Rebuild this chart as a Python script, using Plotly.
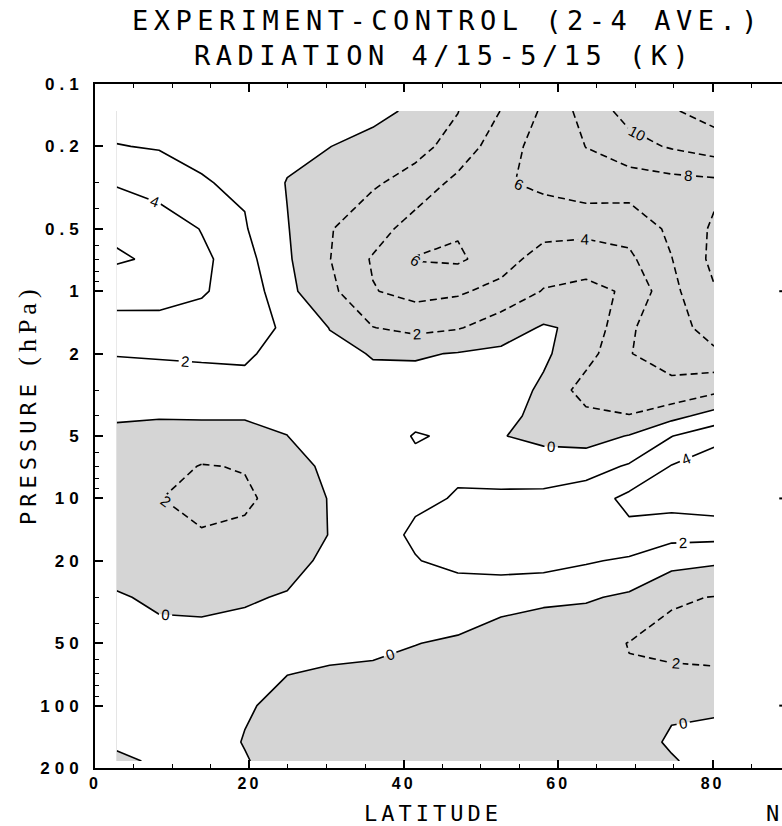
import numpy as np
import plotly.graph_objects as go

# ---------------- data ----------------
latitudes = [2.8, 8.3, 13.8, 19.4, 24.9, 30.4, 36.0, 41.5, 47.0, 52.6, 58.1, 63.6, 69.2, 74.7, 80.2]
pressures = [0.135, 0.2, 0.3, 0.5, 0.7, 1, 1.5, 2, 3, 4, 5, 7, 10, 15, 20, 30, 50, 70, 100, 150, 185]

# temperature difference (K), one list per latitude, top (0.135 hPa) to bottom (185 hPa)
dT_lat03 = [1.4, 2.05, 3.85, 5.5, 6.3, 4.45, 3.6, 2.1, 0.87, 0.2, -0.4, -1.0, -1.4, -1.3, -0.9, 0.2, 0.8, 1.0, 0.9, 0.3, -0.35]
dT_lat08 = [1.5, 1.9, 2.83, 5.5, 5.6, 4.6, 3.46, 2.2, 0.97, 0.1, -0.5, -1.2, -1.95, -1.7, -1.1, -0.35, 0.6, 1.0, 1.1, 0.9, 0.25]
dT_lat14 = [1.6, 1.7, 2.1, 3.9, 4.5, 4.15, 3.38, 2.3, 1.07, 0.15, -0.6, -2.1, -2.6, -1.85, -1.4, -0.3, 0.4, 0.9, 1.1, 1.0, 0.8]
dT_lat19 = [1.5, 1.6, 1.75, 2.15, 2.7, 3.3, 2.8, 2.3, 1.37, 0.1, -0.4, -1.9, -2.3, -1.65, -1.2, -0.2, 0.7, 0.6, 0.2, -0.1, 0.15]
dT_lat25 = [1.2, 0.6, -0.1, 0.1, 0.25, 0.5, 1.7, 1.25, 1.0, 0.4, -0.02, -0.8, -1.3, -1.2, -0.7, 0.15, 0.5, 0.03, -0.5, -0.9, -1.0]
dT_lat30 = [0.9, 0.03, -0.9, -1.9, -1.95, -1.5, -0.05, 0.5, 0.9, 1.2, 1.3, 0.43, 0.1, 0.06, 0.46, 1.0, 0.4, -0.15, -0.8, -1.2, -1.3]
dT_lat36 = [0.6, -0.7, -1.8, -3.0, -4.2, -3.9, -1.95, -0.1, 0.5, 0.9, 1.2, 1.4, 1.5, 1.6, 1.3, 0.9, 0.4, -0.3, -1.0, -1.4, -1.5]
dT_lat42 = [-0.4, -1.5, -2.6, -5.0, -6.1, -4.6, -2.6, -0.2, 0.8, 1.6, 2.1, 1.7, 1.85, 2.15, 1.95, 1.2, 0.05, -0.6, -1.3, -1.7, -1.8]
dT_lat47 = [-1.95, -2.6, -4.6, -5.8, -6.3, -4.3, -2.15, 0.1, 1.0, 1.5, 1.8, 1.9, 2.05, 2.6, 2.3, 1.4, -0.3, -1.0, -1.5, -1.8, -1.9]
dT_lat53 = [-4.05, -5.3, -5.8, -5.4, -5.0, -3.3, -1.0, 0.4, 0.9, 0.5, 0.05, 1.5, 2.2, 2.9, 2.7, 0.9, -1.2, -1.6, -1.7, -1.8, -1.8]
dT_lat58 = [-6.3, -6.63, -6.4, -4.8, -3.0, -1.9, 0.2, 0.3, -0.3, -0.5, -0.3, 0.6, 2.6, 3.3, 2.8, 0.35, -1.2, -1.7, -1.8, -1.85, -1.85]
dT_lat64 = [-8.76, -8.03, -7.2, -4.5, -3.0, -1.4, -0.4, -1.2, -2.9, -1.5, -0.8, 1.2, 3.0, 3.5, 2.2, 0.2, -1.33, -1.8, -1.6, -1.5, -1.5]
dT_lat69 = [-10.73, -9.3, -7.0, -4.7, -3.6, -2.3, -3.8, -3.95, -3.7, -1.9, 0.1, 2.2, 4.5, 3.5, 1.7, -0.3, -2.05, -1.9, -1.3, -1.0, -0.9]
dT_lat75 = [-11.8, -10.2, -7.3, -6.4, -5.95, -5.5, -5.0, -4.6, -3.6, -0.63, 1.95, 4.1, 4.9, 2.6, 0.7, -1.82, -2.46, -1.75, -0.35, 0.3, -0.2]
dT_lat80 = [-12.85, -11.0, -7.5, -8.3, -8.5, -7.85, -7.0, -5.6, -2.5, 0.8, 3.3, 5.2, 5.3, 2.6, 0.3, -2.05, -2.6, -1.8, -0.3, 0.6, 0.9]

y_tick_values = [0.1, 0.2, 0.5, 1, 2, 5, 10, 20, 50, 100, 200]
y_minor_values = [0.3, 0.4, 0.6, 0.7, 0.8, 0.9, 3, 4, 6, 7, 8, 9, 30, 40, 60, 70, 80, 90]
x_tick_values = [0, 20, 40, 60, 80]

# ---------------- build figure ----------------
columns = [dT_lat03, dT_lat08, dT_lat14, dT_lat19, dT_lat25, dT_lat30, dT_lat36, dT_lat42,
           dT_lat47, dT_lat53, dT_lat58, dT_lat64, dT_lat69, dT_lat75, dT_lat80]
Z = np.array(columns).T            # rows = pressure levels, cols = latitudes
logp = np.log10(pressures)

STIPPLE = '#d5d5d5'
fig = go.Figure()

# shading of negative values
fig.add_trace(go.Contour(
    x=latitudes, y=logp, z=Z,
    contours=dict(start=-14, end=14, size=2, coloring='fill', showlines=False),
    colorscale=[[0, STIPPLE], [0.5, STIPPLE], [0.5, 'white'], [1, 'white']],
    showscale=False, line=dict(width=0, smoothing=0), hoverinfo='skip'))

label_font = dict(family='Liberation Sans', size=15, color='black')

# zero and positive contours (solid)
fig.add_trace(go.Contour(
    x=latitudes, y=logp, z=Z,
    contours=dict(start=0, end=14, size=2, coloring='none',
                  showlabels=True, labelfont=label_font),
    line=dict(color='black', width=1.6, smoothing=0), showscale=False, hoverinfo='skip'))

# negative contours (dashed, labelled by magnitude)
fig.add_trace(go.Contour(
    x=latitudes, y=logp, z=-Z,
    contours=dict(start=2, end=14, size=2, coloring='none',
                  showlabels=True, labelfont=label_font),
    line=dict(color='black', width=1.6, dash='7px,4px', smoothing=0),
    showscale=False, hoverinfo='skip'))

def spaced(t, sp):
    return '<span style="letter-spacing:%spx">%s</span>' % (sp, t)

fig.update_xaxes(
    range=[0, 89.0], showline=True, linewidth=2, linecolor='black', mirror='ticks',
    ticks='inside', ticklen=8, tickwidth=1.5, tickcolor='black',
    tickmode='array', tickvals=x_tick_values,
    ticktext=[spaced(str(v), 3) for v in x_tick_values],
    tickfont=dict(family='Liberation Sans', size=16, color='black', weight='bold'),
    minor=dict(ticks='inside', tickmode='linear', tick0=0, dtick=5, ticklen=4,
               tickwidth=1.2, tickcolor='black'),
    showgrid=False, zeroline=False)

fig.update_yaxes(
    range=[np.log10(200), -1], showline=True, linewidth=2, linecolor='black',
    ticks='inside', ticklen=8, tickwidth=1.5, tickcolor='black',
    tickmode='array', tickvals=list(np.log10(y_tick_values)),
    ticktext=[spaced(str(v), 5) for v in y_tick_values],
    tickfont=dict(family='Liberation Sans', size=17, color='black', weight='bold'),
    ticklabelstandoff=6,
    minor=dict(ticks='inside', tickmode='array', tickvals=list(np.log10(y_minor_values)),
               ticklen=4, tickwidth=1.2, tickcolor='black'),
    showgrid=False, zeroline=False)

L, T, B, W = 95, 84, 768, 687
def px(xp):
    return (xp - L) / W
def py(yp):
    return (B - yp) / (B - T)

mono = 'DejaVu Sans Mono'
annotations = [
    dict(text=spaced('EXPERIMENT-CONTROL (2-4 AVE.)', 5.5), x=px(447), y=py(20),
         font=dict(family=mono, size=27, color='black')),
    dict(text=spaced('RADIATION 4/15-5/15 (K)', 5.5), x=px(444), y=py(56),
         font=dict(family=mono, size=27, color='black')),
    dict(text=spaced('LATITUDE', 4), x=px(433), y=py(813),
         font=dict(family=mono, size=22, color='black')),
    dict(text='N', x=px(781), y=py(813), xanchor='right',
         font=dict(family=mono, size=22, color='black')),
    dict(text='<span style="letter-spacing:5px">PRESSURE</span> '
              '<span style="font-family:Liberation Serif;letter-spacing:5px;font-size:26px">(hPa)</span>',
         x=px(27), y=py(405), textangle=-90,
         font=dict(family=mono, size=22, color='black')),
]
for a in annotations:
    a.setdefault('xanchor', 'center')
    a.update(xref='paper', yref='paper', yanchor='middle', showarrow=False)
fig.update_layout(annotations=annotations)

# tick stubs of the neighbouring panel at the right edge
for pv in [1, 10, 100]:
    fig.add_shape(type='line', xref='paper', yref='y', x0=0.996, x1=1.0,
                  y0=np.log10(pv), y1=np.log10(pv), line=dict(color='black', width=2))

fig.update_layout(width=782, height=826, margin=dict(l=95, r=0, t=84, b=58),
                  plot_bgcolor='white', paper_bgcolor='white', showlegend=False)

fig.write_html('out.html', config={'displayModeBar': False},
               post_script="document.body.style.margin='0px';document.body.style.padding='0px';")
